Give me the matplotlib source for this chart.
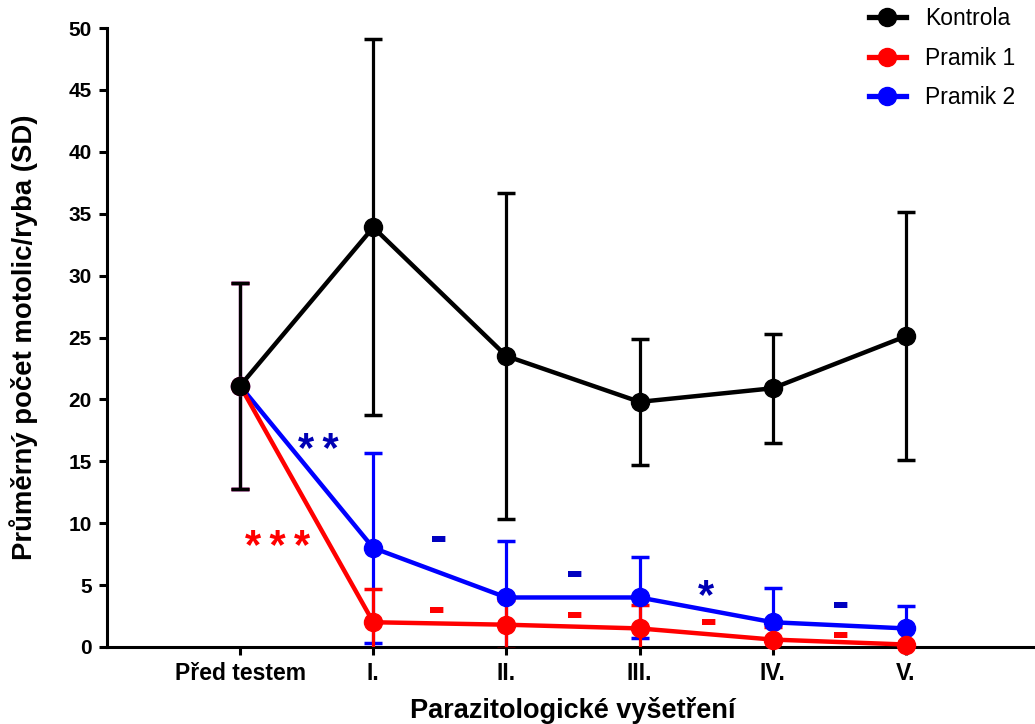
import matplotlib
matplotlib.use("Agg")
import matplotlib.pyplot as plt
import numpy as np

plt.rcParams["font.family"] = ["Liberation Sans", "DejaVu Sans"]

# values
exams = ["Před testem", "I.", "II.", "III.", "IV.", "V."]
kontrola_mean = [21.1, 33.9, 23.5, 19.8, 20.9, 25.1]
kontrola_sd = [8.3, 15.2, 13.2, 5.1, 4.4, 10.0]
pramik1_mean = [21.1, 2.0, 1.8, 1.5, 0.6, 0.2]
pramik1_sd = [8.3, 2.7, 2.0, 1.9, 1.0, 0.0]
pramik2_mean = [21.1, 8.0, 4.0, 4.0, 2.0, 1.5]
pramik2_sd = [8.3, 7.7, 4.6, 3.3, 2.8, 1.8]

# significance marks
star_labels = ["***", "**", "*"]
star_x = [0.28, 0.59, 3.50]
star_y = [9.05, 16.9, 5.1]
star_colors = ["#ff0000", "#0000b4", "#0000b4"]
ns_p1_x = [1.48, 2.51, 3.52, 4.51]
ns_p1_y = [3.0, 2.6, 2.0, 1.0]
ns_p2_x = [1.49, 2.51, 4.51]
ns_p2_y = [8.7, 5.9, 3.4]

SERIES = [
    ("Pramik 2", pramik2_mean, pramik2_sd, "#0000ff", 3),
    ("Pramik 1", pramik1_mean, pramik1_sd, "#ff0000", 4),
    ("Kontrola", kontrola_mean, kontrola_sd, "#000000", 5),
]


def main():
    fig = plt.figure(figsize=(10.35, 7.24), dpi=100)
    ax = fig.add_axes([107 / 1035, 1 - 647 / 724, (1039 - 107) / 1035, 619 / 724])
    x = np.arange(len(exams))

    handles = {}
    for label, mean, sd, color, z in SERIES:
        line, caps, bars = ax.errorbar(
            x, mean, yerr=sd, fmt="-o", color=color, lw=3.2, ms=13,
            elinewidth=2.3, capsize=6.8, capthick=2.5, zorder=z, label=label,
        )
        line.set_clip_on(False)
        line.set_zorder(z + 10)
        handles[label] = line

    for lab, sx, sy, col in zip(star_labels, star_x, star_y, star_colors):
        fs = 30
        ax.annotate("\u2009".join(lab), xy=(sx, sy), xytext=(0, -0.32 * fs),
                    textcoords="offset points", ha="center", va="center",
                    fontsize=fs, fontweight="bold", color=col)
    for nx, ny in zip(ns_p1_x, ns_p1_y):
        ax.text(nx, ny, "-", ha="center", va="center", fontsize=38,
                fontweight="bold", color="#ff0000")
    for nx, ny in zip(ns_p2_x, ns_p2_y):
        ax.text(nx, ny, "-", ha="center", va="center", fontsize=38,
                fontweight="bold", color="#0000c0")

    ax.set_xlim(-1, 6)
    ax.set_ylim(0, 50)
    ax.set_xticks(x)
    ax.set_xticklabels(exams, fontsize=16.5, fontweight="bold")
    ax.set_yticks(np.arange(0, 51, 5))
    for t in ax.get_yticklabels():
        t.set_fontsize(15)
        t.set_fontweight("bold")
    ax.tick_params(axis="both", direction="out", length=6, width=2.2, pad=5)
    for side in ["top", "right"]:
        ax.spines[side].set_visible(False)
    for side in ["left", "bottom"]:
        ax.spines[side].set_linewidth(2.2)

    ax.set_xlabel("Parazitologické vyšetření", fontsize=19.5, fontweight="bold", labelpad=8.5)
    ax.set_ylabel("Průměrný počet motolic/ryba (SD)", fontsize=19.8, fontweight="bold", labelpad=22)

    order = ["Kontrola", "Pramik 1", "Pramik 2"]
    leg = fig.legend(
        [handles[k] for k in order], order,
        loc="upper left", bbox_to_anchor=(869 / 1035, 0.990),
        frameon=False, fontsize=16.5, handlelength=1.6, handletextpad=0.85,
        labelspacing=0.72, borderpad=0, borderaxespad=0,
    )
    for hl in leg.get_lines():
        hl.set_linewidth(3.8)

    fig.savefig("out.png", dpi=100)
    plt.close(fig)


if __name__ == "__main__":
    main()
